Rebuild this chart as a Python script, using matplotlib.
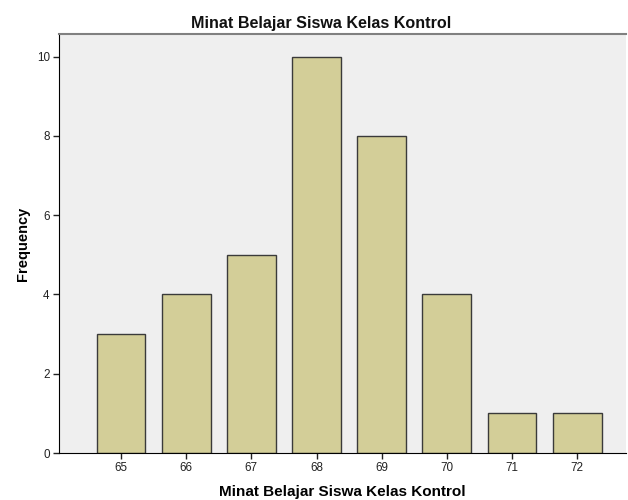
import matplotlib
matplotlib.use('Agg')
import matplotlib.pyplot as plt

# Data
scores = [65, 66, 67, 68, 69, 70, 71, 72]
freq = [3, 4, 5, 10, 8, 4, 1, 1]
y_ticks = [0, 2, 4, 6, 8, 10]

plt.rcParams['font.family'] = ['Liberation Sans', 'DejaVu Sans']

fig = plt.figure(figsize=(6.28, 5.0), dpi=100)
ax = fig.add_axes([0.094, 0.094, 0.903, 0.838])
ax.set_facecolor('#EFEFEF')

ax.bar(scores, freq, width=0.75, color='#D3CE98', edgecolor='#3A3A3A', linewidth=1.0)

ax.set_xlim(64.05, 72.75)
ax.set_ylim(0, 10.57)
ax.set_xticks(scores)
ax.set_yticks(y_ticks)
ax.tick_params(axis='both', length=4.2, width=1, labelsize=8.4, colors='#222222', pad=2.5)

ax.spines['right'].set_visible(False)
ax.spines['top'].set_color('#808080')
ax.spines['top'].set_linewidth(1.5)
ax.spines['left'].set_color('black')
ax.spines['bottom'].set_color('black')

# title sits a bit left of the axes centre, like the SPSS export
fig.text(0.511, 1 - 28 / 500, 'Minat Belajar Siswa Kelas Kontrol', fontsize=11.6,
         fontweight='bold', ha='center', va='baseline', color='#111111')
ax.set_xlabel('Minat Belajar Siswa Kelas Kontrol', fontsize=11, fontweight='bold', labelpad=7.5)
ax.set_ylabel('Frequency', fontsize=10.5, fontweight='bold', labelpad=5)

fig.savefig('out.png', dpi=100)
